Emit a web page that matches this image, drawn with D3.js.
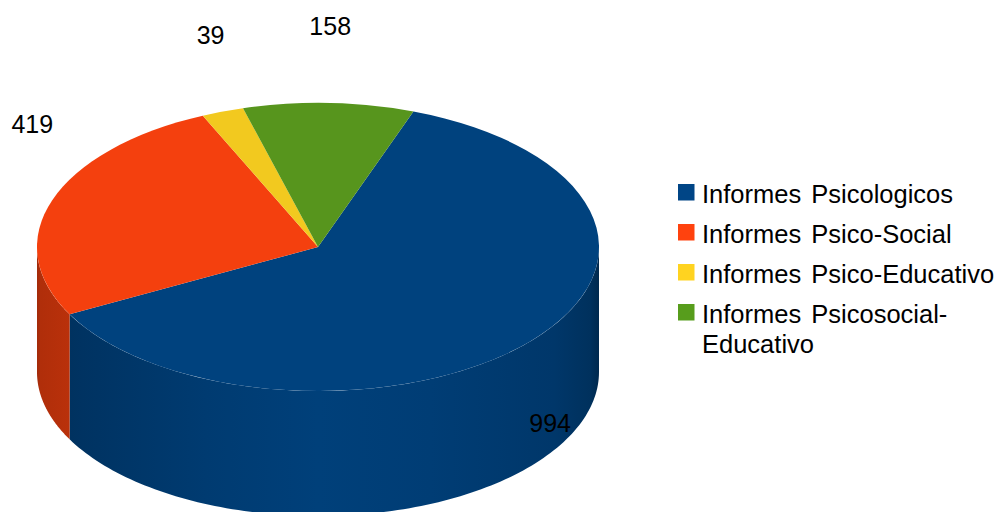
<!DOCTYPE html>
<html lang="es">
<head>
    <meta charset="UTF-8">
    <title>Informes</title>
    <style>
        html, body { margin: 0; background: #fff; }
        svg { display: block; }
        text { font-family: "Liberation Sans", Arial, sans-serif; fill: #000; }
    </style>
</head>
<body>
<div id="chart"></div>
<script src="https://cdn.jsdelivr.net/npm/d3@7/dist/d3.min.js"></script>
<script>
    const categories = ['Informes Psicologicos', 'Informes Psico-Social', 'Informes Psico-Educativo', 'Informes Psicosocial-Educativo']
    const values = [994, 419, 39, 158]
    const legendLines = [['Informes Psicologicos'], ['Informes Psico-Social'], ['Informes Psico-Educativo'], ['Informes Psicosocial-', 'Educativo']]
    const legendColors = ['#004586', '#ff420e', '#ffd320', '#579d1c']
    const topColors = ['#00427e', '#f4400e', '#f2c91f', '#57951d']

    let width = 999, height = 512
    let cx = 318, cy = 247, rx = 281, ry = 144, depth = 125
    let start = 19.85 * Math.PI / 180

    // label offset from the point of the rim at the middle of the slice
    let labelNudge = [[20, 82], [-20, -76], [-12, -76], [1.5, -77]]

    let svg = d3.select('#chart').append('svg')
        .attr('width', width)
        .attr('height', height)

    let pie = d3.pie()
        .value(d => d)
        .sort(null)
        .startAngle(start)
        .endAngle(start + 2 * Math.PI)
    let slices = pie(values)

    let xAt = a => cx + rx * Math.sin(a)
    let yAt = a => cy - ry * Math.cos(a)

    // side shading runs left to right across the whole pie
    let defs = svg.append('defs')
    let shades = [[0, .66], [.006, .72], [.08, .78], [.3, .90], [.5, .97], [.7, .93], [.92, .84], [.985, .74], [1, .62]]
    legendColors.forEach((c, i) => {
        let g = defs.append('linearGradient')
            .attr('id', 'side' + i)
            .attr('gradientUnits', 'userSpaceOnUse')
            .attr('x1', cx - rx).attr('x2', cx + rx)
            .attr('y1', 0).attr('y2', 0)
        shades.forEach(s => {
            let col = d3.rgb(topColors[i])
            g.append('stop')
                .attr('offset', s[0])
                .attr('stop-color', d3.rgb(col.r * s[1], col.g * s[1], col.b * s[1]).formatHex())
        })
    })

    // visible wall: the part of each slice that is on the front half
    let area = d3.area()
        .x(a => xAt(a))
        .y0(a => yAt(a))
        .y1(a => yAt(a) + depth)

    let frontFrom = Math.PI / 2, frontTo = 3 * Math.PI / 2
    let walls = svg.append('g')
    slices.forEach(d => {
        let a0 = Math.max(d.startAngle, frontFrom)
        let a1 = Math.min(d.endAngle, frontTo)
        if (a1 <= a0) return
        let n = 120
        let angles = d3.range(n + 1).map(k => a0 + (a1 - a0) * k / n)
        walls.append('path')
            .attr('d', area(angles))
            .attr('fill', `url(#side${d.index})`)
    })

    // top face
    let arc = d3.arc().innerRadius(0).outerRadius(rx)
    svg.append('g')
        .attr('transform', `translate(${cx},${cy}) scale(1,${ry / rx})`)
        .selectAll('path')
        .data(slices)
        .enter()
        .append('path')
        .attr('d', arc)
        .attr('fill', d => topColors[d.index])

    // value labels
    svg.append('g')
        .selectAll('text')
        .data(slices)
        .enter()
        .append('text')
        .attr('x', d => xAt((d.startAngle + d.endAngle) / 2) + labelNudge[d.index][0])
        .attr('y', d => yAt((d.startAngle + d.endAngle) / 2) + labelNudge[d.index][1])
        .attr('dy', '.35em')
        .attr('text-anchor', 'middle')
        .style('font-size', '25px')
        .text(d => d.value)

    // legend
    let rowY = d3.scalePoint().domain(d3.range(categories.length)).range([184, 304])
    let rows = svg.append('g')
        .selectAll('g')
        .data(categories)
        .enter()
        .append('g')
        .attr('transform', (d, i) => `translate(678,${rowY(i)})`)

    rows.append('rect')
        .attr('width', 16.5)
        .attr('height', 16.5)
        .attr('fill', (d, i) => legendColors[i])

    rows.append('text')
        .attr('x', 24)
        .attr('y', 18.5)
        .style('font-size', '25.5px')
        .style('word-spacing', '3px')
        .selectAll('tspan')
        .data((d, i) => legendLines[i])
        .enter()
        .append('tspan')
        .attr('x', 24)
        .attr('dy', (d, i) => i ? 30 : 0)
        .text(d => d)
</script>
</body>
</html>
